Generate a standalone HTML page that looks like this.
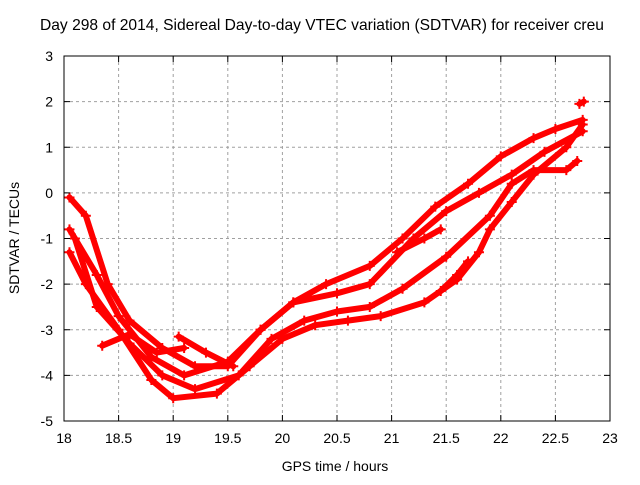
<!DOCTYPE html>
<html><head><meta charset="utf-8"><style>
body{margin:0;background:#fff}
svg text{font-family:"Liberation Sans",sans-serif;font-size:14px;fill:#000}
</style></head><body>
<svg id="chart" width="640" height="480" viewBox="0 0 640 480">
<text x="40" y="30" style="font-size:15.6px">Day 298 of 2014, Sidereal Day-to-day VTEC variation (SDTVAR) for receiver creu</text>
<g id="grid"></g>
<g id="series"></g>
<rect x="64" y="56" width="546" height="365" fill="none" stroke="#000" stroke-width="1"/>
<g id="ticks"></g>
<text x="335" y="471" text-anchor="middle">GPS time / hours</text>
<text transform="translate(19,238) rotate(-90)" text-anchor="middle">SDTVAR / TECUs</text>
</svg>
<script>
const xTicks=[18,18.5,19,19.5,20,20.5,21,21.5,22,22.5,23];
const yTicks=[-5,-4,-3,-2,-1,0,1,2,3];
const seriesA=[[18.05,-0.1],[18.2,-0.5],[18.4,-2.0],[18.6,-2.8],[18.9,-3.4],[19.2,-3.8],[19.5,-3.8],[19.8,-3.0],[20.1,-2.4],[20.4,-2.0],[20.8,-1.6],[21.1,-1.0],[21.4,-0.3],[21.7,0.2],[22.0,0.8],[22.3,1.2],[22.5,1.4],[22.75,1.6]];
const seriesB=[[18.05,-0.8],[18.3,-1.8],[18.5,-2.7],[18.8,-3.6],[19.1,-4.0],[19.5,-3.7],[19.8,-3.0],[20.1,-2.4],[20.5,-2.2],[20.8,-2.0],[21.2,-1.0],[21.5,-0.4],[21.8,0.0],[22.1,0.4],[22.4,0.9],[22.75,1.35]];
const seriesC=[[18.1,-1.0],[18.3,-2.5],[18.6,-3.3],[18.9,-4.0],[19.2,-4.3],[19.6,-4.0],[19.9,-3.2],[20.2,-2.8],[20.5,-2.6],[20.8,-2.5],[21.1,-2.1],[21.5,-1.4],[21.9,-0.5],[22.1,0.2],[22.3,0.5],[22.6,0.5],[22.7,0.7]];
const seriesD=[[18.05,-1.3],[18.2,-2.0],[18.5,-3.0],[18.8,-4.1],[19.0,-4.5],[19.4,-4.4],[19.7,-3.8],[20.0,-3.2],[20.3,-2.9],[20.6,-2.8],[20.9,-2.7],[21.3,-2.4],[21.6,-1.9],[21.8,-1.3],[21.9,-0.8],[22.1,-0.2],[22.3,0.4],[22.6,1.0],[22.75,1.5]];
const seriesE=[[18.35,-3.35],[18.6,-3.1],[18.85,-3.5],[19.1,-3.4]];
const seriesF=[[19.05,-3.15],[19.3,-3.5],[19.55,-3.8]];
const seriesG=[[21.05,-1.3],[21.3,-1.0],[21.45,-0.8]];
const seriesH=[[21.45,-2.15],[21.6,-1.8],[21.7,-1.5]];
const seriesI=[[22.72,1.95],[22.76,2.0]];
const allSeries=[seriesA,seriesB,seriesC,seriesD,seriesE,seriesF,seriesG,seriesH,seriesI];
const NS='http://www.w3.org/2000/svg';
const X0=64,X1=610,Y0=421,Y1=56;
function sx(v){return X0+(v-18)/5*(X1-X0);}
function sy(v){return Y0-(v+5)/8*(Y0-Y1);}
const grid=document.getElementById('grid'),ticks=document.getElementById('ticks'),ser=document.getElementById('series');
function mk(tag,attrs,parent){const e=document.createElementNS(NS,tag);for(const k in attrs)e.setAttribute(k,attrs[k]);parent.appendChild(e);return e;}
xTicks.forEach(t=>{
  const x=sx(t);
  if(t>18&&t<23){const g=mk('line',{x1:x,x2:x,y1:Y1,y2:Y0,stroke:'#a0a0a0','stroke-dasharray':'3,3'},grid);
  
  }
  const tk=mk('path',{d:`M${x},${Y0}v-6M${x},${Y1}v6`,stroke:'#000'},ticks);
  
  
  const l=mk('text',{x:x,y:443,'text-anchor':'middle'},ticks);l.textContent=String(t);
  
  
});
yTicks.forEach(t=>{
  const y=sy(t);
  if(t>-5&&t<3){const g=mk('line',{x1:X0,x2:X1,y1:y,y2:y,stroke:'#a0a0a0','stroke-dasharray':'3,3'},grid);
  
  }
  const tk=mk('path',{d:`M${X0},${y}h6M${X1},${y}h-6`,stroke:'#000'},ticks);
  
  
  const l=mk('text',{x:53,y:y+5,'text-anchor':'end'},ticks);l.textContent=String(t);
  
  
});
allSeries.forEach((s,i)=>{
  const d=s.map((p,j)=>(j?'L':'M')+sx(p[0]).toFixed(1)+','+sy(p[1]).toFixed(1)).join('');
  const p=mk('path',{d:d,fill:'none',stroke:'#ff0000','stroke-width':6,'stroke-linejoin':'round','stroke-linecap':'round'},ser);
  
  
  s.forEach(pt=>{
    const x=sx(pt[0]),y=sy(pt[1]);
    const m=mk('path',{d:`M${x-5},${y}h10M${x},${y-5}v10`,stroke:'#ff0000','stroke-width':2},ser);
    
    
  });
});
</script>
</body></html>
